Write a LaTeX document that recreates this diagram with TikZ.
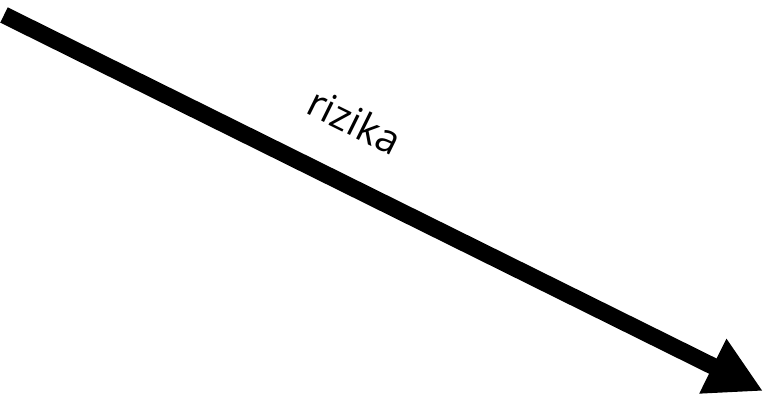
\documentclass[tikz,border=0pt]{standalone}
\usepackage{fontspec}
\setmainfont{Open Sans}
\usetikzlibrary{arrows.meta}
\tikzset{
  riskarrow/.style={line width=17pt, line cap=butt, -{Triangle[length=56pt,width=57pt]}},
  risklabel/.style={font=\fontsize{40}{46}\selectfont, rotate=-26.3, inner sep=0pt}
}
\begin{document}
\begin{tikzpicture}[x=1pt,y=-1pt]
  \useasboundingbox (0,0) rectangle (769,396);
  \coordinate (start) at (4,15);
  \coordinate (tip) at (763,391);
  \draw[riskarrow] (start) -- (tip);
  \node[risklabel] (label) at (355,121) {rizika};
\end{tikzpicture}
\end{document}
